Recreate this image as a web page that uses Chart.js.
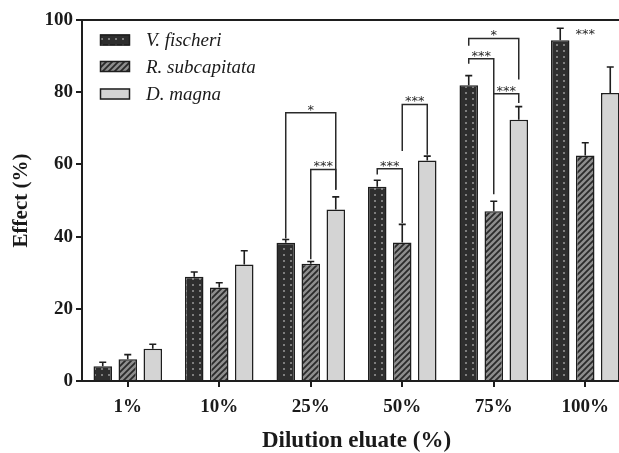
<!DOCTYPE html>
<html>
<head>
<meta charset="utf-8">
<script src="https://cdn.jsdelivr.net/npm/chart.js@4.4.1/dist/chart.umd.min.js"></script>
<style>
html,body{margin:0;padding:0;background:#fff;overflow:hidden;width:619px;height:453px;}
canvas{display:block;}
</style>
</head>
<body>
<canvas id="c" width="640" height="453"></canvas>
<script>
// ---- data ----
const categories = ['1%', '10%', '25%', '50%', '75%', '100%'];
const seriesNames = ['V. fischeri', 'R. subcapitata', 'D. magna'];
const vFischeri = [4.1, 28.9, 38.3, 53.8, 81.9, 94.4];
const vFischeriErr = [1.1, 1.3, 0.9, 1.8, 2.7, 3.3];
const rSubcapitata = [6.0, 25.9, 32.5, 38.4, 47.0, 62.5];
const rSubcapitataErr = [1.3, 1.3, 0.6, 5.0, 2.8, 3.5];
const dMagna = [8.9, 32.3, 47.5, 61.1, 72.4, 79.8];
const dMagnaErr = [1.3, 3.8, 3.5, 1.2, 3.6, 7.2];
const yTicks = [0, 20, 40, 60, 80, 100];

// significance brackets (category index, from series, to series, left leg base, top, right leg base, label)
const sigCategory  = [2, 2, 3, 3, 4, 4, 4, 5];
const sigFrom      = [0, 1, 0, 1, 0, 0, 1, 1];
const sigTo        = [2, 2, 1, 2, 2, 1, 2, 1];
const sigLeftBase  = [39.5, 33.7, 57.2, 63.7, 92.9, 87.9, 79.6, 95.2];
const sigTop       = [74.3, 58.6, 58.8, 76.6, 94.9, 89.3, 79.6, 95.2];
const sigRightBase = [53.0, 53.0, 43.8, 62.7, 83.5, 51.7, 77.0, 95.2];
const sigLabel     = ['*', '***', '***', '***', '*', '***', '***', '***'];

// ---- patterns ----
function makeTile(w, h, draw) {
  const c = document.createElement('canvas');
  c.width = w; c.height = h;
  draw(c.getContext('2d'), w, h);
  return document.getElementById('c').getContext('2d').createPattern(c, 'repeat');
}
const dotPattern = makeTile(7, 6, (g, w, h) => {
  g.fillStyle = '#2e2e2e'; g.fillRect(0, 0, w, h);
  g.fillStyle = '#7e7e7e'; g.fillRect(3, 2, 2, 2);
});
const hatchPattern = makeTile(6, 6, (g, w, h) => {
  g.fillStyle = '#8e8e8e'; g.fillRect(0, 0, w, h);
  g.strokeStyle = '#2a2a2a'; g.lineWidth = 1.8;
  g.beginPath();
  g.moveTo(-1, 7); g.lineTo(7, -1);
  g.moveTo(-4, 4); g.lineTo(4, -4);
  g.moveTo(2, 10); g.lineTo(10, 2);
  g.stroke();
});
const fills = [dotPattern, hatchPattern, '#d4d4d4'];
const errs = [vFischeriErr, rSubcapitataErr, dMagnaErr];

const serif = "'Liberation Serif', 'Times New Roman', serif";
const ink = '#1e1e1e';

const overlay = {
  id: 'overlay',
  afterDatasetsDraw(chart) {
    const ctx = chart.ctx;
    const ys = chart.scales.y;
    const area = chart.chartArea;
    ctx.save();
    // error bars (upper only)
    ctx.strokeStyle = ink; ctx.lineWidth = 1.6;
    chart.data.datasets.forEach((ds, di) => {
      const meta = chart.getDatasetMeta(di);
      meta.data.forEach((bar, i) => {
        const top = ys.getPixelForValue(ds.data[i] + errs[di][i]);
        ctx.beginPath();
        ctx.moveTo(bar.x, bar.y); ctx.lineTo(bar.x, top);
        ctx.moveTo(bar.x - 3.5, top); ctx.lineTo(bar.x + 3.5, top);
        ctx.stroke();
      });
    });
    // significance brackets
    ctx.lineWidth = 1.5; ctx.strokeStyle = '#2a2a2a';
    ctx.fillStyle = '#2a2a2a';
    ctx.font = "13px 'DejaVu Sans', sans-serif";
    ctx.textAlign = 'center'; ctx.textBaseline = 'alphabetic';
    sigCategory.forEach((cat, k) => {
      const x1 = chart.getDatasetMeta(sigFrom[k]).data[cat].x;
      const x2 = chart.getDatasetMeta(sigTo[k]).data[cat].x;
      const yt = ys.getPixelForValue(sigTop[k]);
      const yl = ys.getPixelForValue(sigLeftBase[k]);
      const yr = ys.getPixelForValue(sigRightBase[k]);
      if (x1 !== x2) {
        ctx.beginPath();
        ctx.moveTo(x1, yl); ctx.lineTo(x1, yt); ctx.lineTo(x2, yt); ctx.lineTo(x2, yr);
        ctx.stroke();
      }
      ctx.fillText(sigLabel[k], (x1 + x2) / 2, yt + 1);
    });
    // top frame line
    ctx.strokeStyle = ink; ctx.lineWidth = 2;
    ctx.beginPath();
    ctx.moveTo(area.left - 1, area.top); ctx.lineTo(chart.width, area.top);
    ctx.stroke();
    // legend
    ctx.font = "italic 19px " + serif;
    ctx.textAlign = 'left'; ctx.textBaseline = 'middle';
    const lx = 100, ly = [40, 66.5, 94];
    chart.data.datasets.forEach((ds, di) => {
      ctx.fillStyle = fills[di];
      ctx.fillRect(lx, ly[di] - 5.5, 30, 11);
      ctx.strokeStyle = ink; ctx.lineWidth = 1.5;
      ctx.strokeRect(lx + 0.5, ly[di] - 5, 29, 10);
      ctx.fillStyle = '#1a1a1a';
      ctx.fillText(ds.label, 146, ly[di] + 1);
    });
    ctx.restore();
  }
};

new Chart(document.getElementById('c'), {
  type: 'bar',
  data: {
    labels: categories,
    datasets: [
      { label: seriesNames[0], data: vFischeri, backgroundColor: fills[0], borderColor: ink, borderWidth: 1.5 },
      { label: seriesNames[1], data: rSubcapitata, backgroundColor: fills[1], borderColor: ink, borderWidth: 1.5 },
      { label: seriesNames[2], data: dMagna, backgroundColor: fills[2], borderColor: ink, borderWidth: 1.5 }
    ]
  },
  options: {
    responsive: false,
    animation: false,
    layout: { padding: { top: 20, right: 9, left: 0, bottom: 0 } },
    datasets: { bar: { categoryPercentage: 0.82, barPercentage: 0.74 } },
    plugins: { legend: { display: false }, tooltip: { enabled: false } },
    scales: {
      x: {
        afterFit(s) { s.height = 72; },
        grid: { offset: false, drawOnChartArea: false, drawTicks: true, tickLength: 6, color: ink, lineWidth: 2 },
        border: { display: true, color: ink, width: 2 },
        ticks: { color: '#1a1a1a', font: { family: serif, size: 19, weight: 'bold' }, padding: 9, maxRotation: 0 },
        title: { display: true, text: 'Dilution eluate (%)', color: '#1a1a1a', font: { family: serif, size: 23, weight: 'bold', lineHeight: 1.04 }, padding: { top: 0, bottom: 0 } }
      },
      y: {
        min: 0, max: 100,
        afterFit(s) { s.width = 82; },
        afterBuildTicks(s) { s.ticks = yTicks.map(v => ({ value: v })); },
        grid: { drawOnChartArea: false, drawTicks: true, tickLength: 6, color: ink, lineWidth: 2 },
        border: { display: true, color: ink, width: 2 },
        ticks: { color: '#1a1a1a', font: { family: serif, size: 19, weight: 'bold' }, padding: 3 },
        title: { display: true, text: 'Effect (%)', color: '#1a1a1a', font: { family: serif, size: 21, weight: 'bold', lineHeight: 1.2 }, padding: { top: 9, bottom: 0 } }
      }
    }
  },
  plugins: [overlay]
});
</script>
</body>
</html>
